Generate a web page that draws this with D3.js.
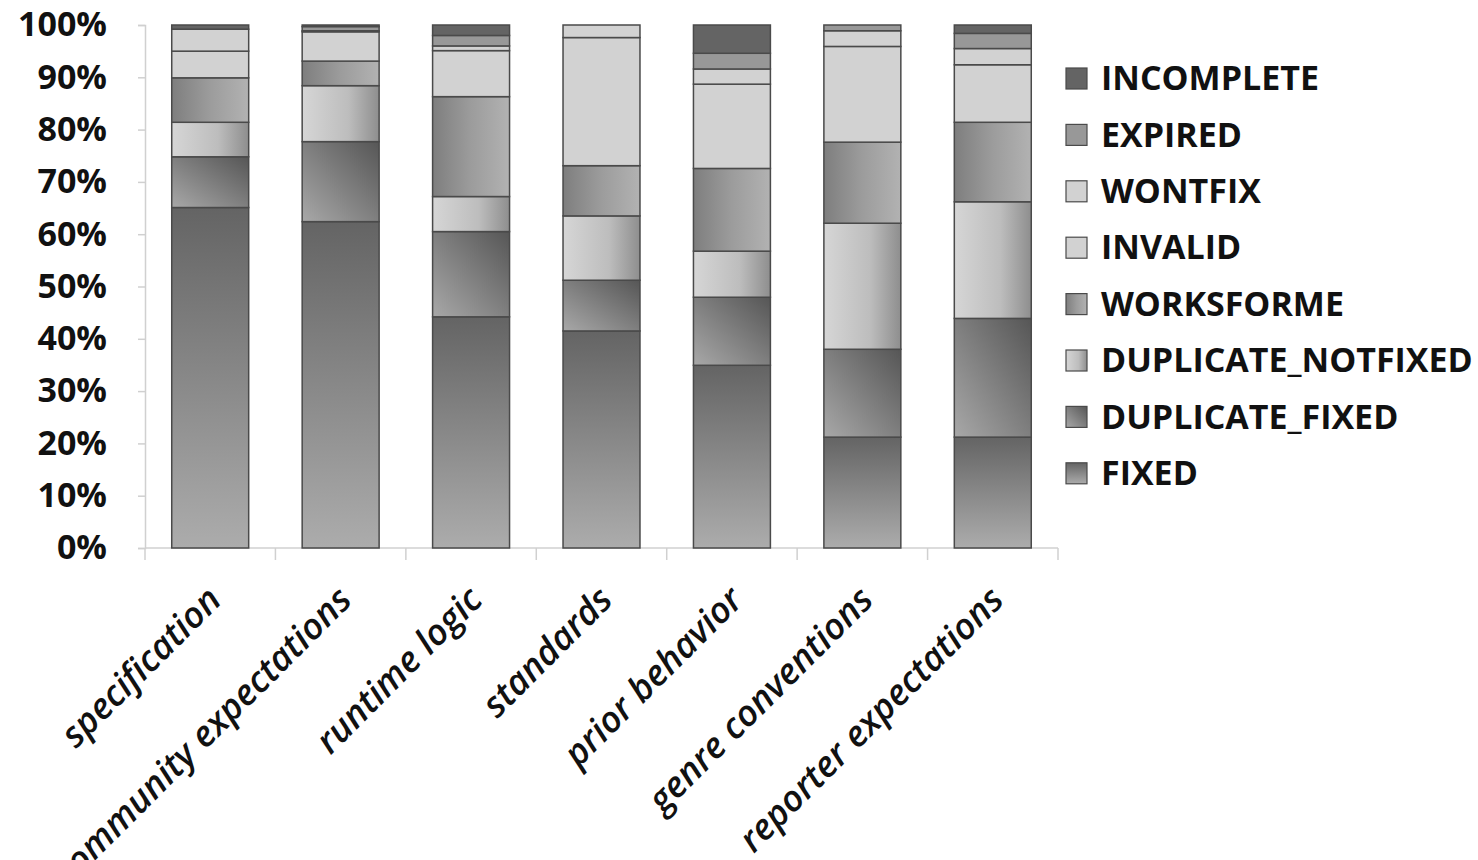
<!DOCTYPE html>
<html>
<head>
<meta charset="utf-8">
<script src="https://cdn.jsdelivr.net/npm/d3@7"></script>
<style>
  html, body { margin: 0; padding: 0; background: #fff; }
  svg { display: block; }
</style>
</head>
<body>
<svg id="chart" width="1478" height="860"></svg>
<script>
// ---- data (percent of each category) ----
const categories = ["specification", "community expectations", "runtime logic", "standards",
                    "prior behavior", "genre conventions", "reporter expectations"];
const seriesNames = ["FIXED", "DUPLICATE_FIXED", "DUPLICATE_NOTFIXED", "WORKSFORME",
                     "INVALID", "WONTFIX", "EXPIRED", "INCOMPLETE"];
const fixed       = [65.1, 62.4, 44.2, 41.5, 34.9, 21.2, 21.2];
const dupFixed    = [ 9.7, 15.3, 16.3,  9.7, 13.0, 16.8, 22.7];
const dupNotFixed = [ 6.6, 10.7,  6.7, 12.3,  8.8, 24.1, 22.3];
const worksforme  = [ 8.5,  4.7, 19.1,  9.6, 15.8, 15.5, 15.2];
const invalid     = [ 5.1,  5.6,  8.8, 24.5, 16.1, 18.3, 11.0];
const wontfix     = [ 4.2,  0.2,  0.9,  2.4,  2.9,  3.0,  3.1];
const expired     = [ 0.0,  0.8,  2.0,  0.0,  3.0,  1.1,  2.9];
const incomplete  = [ 0.8,  0.3,  2.0,  0.0,  5.4,  0.0,  1.6];
const yTicks = [0, 0.1, 0.2, 0.3, 0.4, 0.5, 0.6, 0.7, 0.8, 0.9, 1.0];

const seriesValues = [fixed, dupFixed, dupNotFixed, worksforme, invalid, wontfix, expired, incomplete];
const table = categories.map((c, i) => {
  const row = { category: c };
  seriesNames.forEach((s, j) => row[s] = seriesValues[j][i]);
  return row;
});

const svg = d3.select("#chart");
const pLeft = 145, pRight = 1058, pTop = 25, pBottom = 548;

const x = d3.scaleBand().domain(categories).range([pLeft, pRight])
  .paddingInner(0.41).paddingOuter(0.205);
const y = d3.scaleLinear().domain([0, 1]).range([pBottom, pTop]);

const stack = d3.stack().keys(seriesNames).offset(d3.stackOffsetExpand);
const layers = stack(table);

// ---- gradients ----
const defs = svg.append("defs");
function lin(id, x1, y1, x2, y2, stops) {
  const g = defs.append("linearGradient").attr("id", id)
    .attr("x1", x1).attr("y1", y1).attr("x2", x2).attr("y2", y2);
  stops.forEach(s => g.append("stop").attr("offset", s[0]).attr("stop-color", s[1]));
}
lin("gFixed", 0, 0, 0, 1, [[0, "#646464"], [1, "#acacac"]]);
lin("gDupFixed", 1, 0, 0, 1, [[0, "#565656"], [1, "#a8a8a8"]]);
lin("gDupNot", 0, 0, 1, 0, [[0, "#d6d6d6"], [0.6, "#bdbdbd"], [1, "#8e8e8e"]]);
lin("gWorks", 0, 0, 1, 0, [[0, "#7e7e7e"], [0.5, "#9c9c9c"], [1, "#b2b2b2"]]);
const fills = {
  FIXED: "url(#gFixed)",
  DUPLICATE_FIXED: "url(#gDupFixed)",
  DUPLICATE_NOTFIXED: "url(#gDupNot)",
  WORKSFORME: "url(#gWorks)",
  INVALID: "#d2d2d2",
  WONTFIX: "#d2d2d2",
  EXPIRED: "#989898",
  INCOMPLETE: "#646464"
};

// ---- axes ----
const axisColor = "#d0d0d0";
const yAxis = svg.append("g").attr("transform", `translate(${pLeft},0)`)
  .call(d3.axisLeft(y).tickValues(yTicks).tickFormat(d3.format(".0%")).tickSize(7).tickPadding(31));
yAxis.select(".domain").attr("stroke", axisColor).attr("stroke-width", 1.5);
yAxis.selectAll(".tick line").attr("stroke", axisColor).attr("stroke-width", 1.5);
yAxis.selectAll(".tick text")
  .attr("font-family", "'Open Sans', sans-serif").attr("font-weight", 700)
  .attr("font-size", 34).attr("fill", "#111");

// x axis baseline + boundary ticks
svg.append("line").attr("x1", pLeft).attr("x2", pRight).attr("y1", y(0)).attr("y2", y(0))
  .attr("stroke", axisColor).attr("stroke-width", 1.5);
svg.append("g").selectAll("line")
  .data(d3.range(categories.length + 1))
  .join("line")
  .attr("x1", i => x.range()[0] + i * x.step())
  .attr("x2", i => x.range()[0] + i * x.step())
  .attr("y1", y(0)).attr("y2", y(0) + 12)
  .attr("stroke", axisColor).attr("stroke-width", 1.5);

// ---- bars ----
svg.append("g").selectAll("g")
  .data(layers)
  .join("g")
  .attr("fill", d => fills[d.key])
  .selectAll("rect")
  .data(d => d)
  .join("rect")
  .attr("x", d => x(d.data.category))
  .attr("width", x.bandwidth())
  .attr("y", d => y(d[1]))
  .attr("height", d => Math.max(0, y(d[0]) - y(d[1])))
  .attr("stroke", "#4a4a4a")
  .attr("stroke-width", 1.5);

// ---- category labels ----
svg.append("g").selectAll("text")
  .data(categories)
  .join("text")
  .attr("transform", d => `translate(${x(d) + x.bandwidth() / 2 + 13},${y(0) + 54}) rotate(-45)`)
  .attr("text-anchor", "end")
  .attr("font-family", "'Open Sans', sans-serif")
  .attr("font-style", "italic")
  .attr("font-weight", 600)
  .attr("font-size", 36)
  .attr("fill", "#111")
  .text(d => d);

// ---- legend ----
const legendNames = seriesNames.slice().reverse();
const lg = svg.append("g").selectAll("g")
  .data(legendNames)
  .join("g")
  .attr("transform", (d, i) => `translate(1066,${78 + i * 56.4})`);
lg.append("rect").attr("x", 0).attr("y", -10).attr("width", 21).attr("height", 21)
  .attr("fill", d => fills[d]).attr("stroke", "#4a4a4a").attr("stroke-width", 1.2);
lg.append("text").attr("x", 35).attr("y", 0).attr("dy", "0.36em")
  .attr("font-family", "'Open Sans', sans-serif").attr("font-weight", 700)
  .attr("font-size", 34).attr("fill", "#111")
  .text(d => d);
</script>
</body>
</html>
